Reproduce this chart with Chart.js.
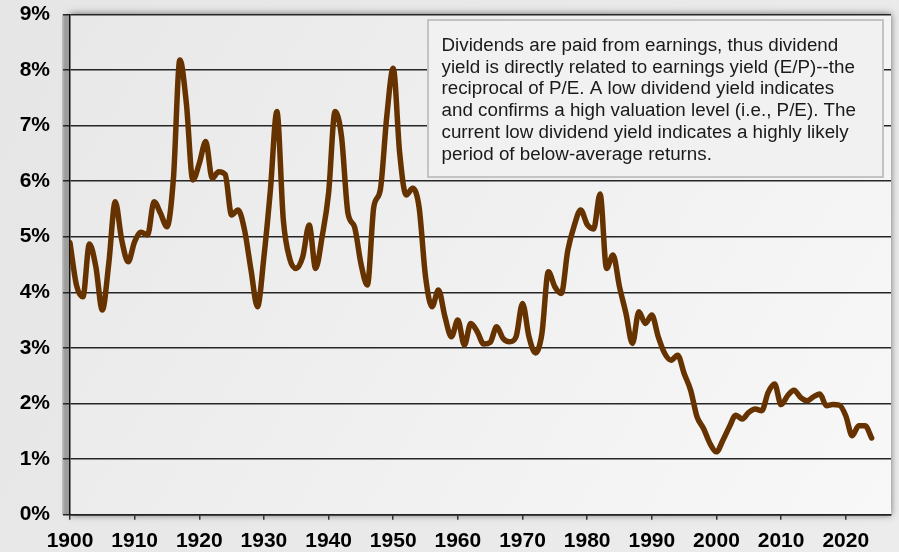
<!DOCTYPE html>
<html><head><meta charset="utf-8">
<script src="https://cdn.jsdelivr.net/npm/chart.js@4.4.1/dist/chart.umd.min.js"></script>
<style>html,body{margin:0;padding:0;background:#e8e8e8;}#wrap{width:899px;height:552px;position:relative;overflow:hidden}</style>
</head><body><div id="wrap"><canvas id="c" width="899" height="552"></canvas></div>
<script>
const years = [
 1900,1901,1902,1903,1904,1905,1906,1907,1908,1909,
 1910,1911,1912,1913,1914,1915,1916,1917,1918,1919,
 1920,1921,1922,1923,1924,1925,1926,1927,1928,1929,
 1930,1931,1932,1933,1934,1935,1936,1937,1938,1939,
 1940,1941,1942,1943,1944,1945,1946,1947,1948,1949,
 1950,1951,1952,1953,1954,1955,1956,1957,1958,1959,
 1960,1961,1962,1963,1964,1965,1966,1967,1968,1969,
 1970,1971,1972,1973,1974,1975,1976,1977,1978,1979,
 1980,1981,1982,1983,1984,1985,1986,1987,1988,1989,
 1990,1991,1992,1993,1994,1995,1996,1997,1998,1999,
 2000,2001,2002,2003,2004,2005,2006,2007,2008,2009,
 2010,2011,2012,2013,2014,2015,2016,2017,2018,2019,
 2020,2021,2022,2023,2024];
const dividendYield = [
 4.89,4.13,3.92,4.87,4.46,3.68,4.52,5.63,4.94,4.55,
 4.91,5.08,5.03,5.63,5.42,5.18,6.05,8.18,7.40,6.02,
 6.32,6.71,6.05,6.17,6.12,5.39,5.48,5.12,4.40,3.74,
 4.64,5.84,7.25,5.30,4.60,4.43,4.64,5.21,4.43,5.00,
 5.78,7.25,6.80,5.42,5.18,4.52,4.13,5.54,5.84,7.16,
 8.03,6.50,5.75,5.87,5.53,4.28,3.74,4.04,3.56,3.20,
 3.50,3.05,3.44,3.29,3.07,3.10,3.38,3.17,3.11,3.20,
 3.80,3.20,2.91,3.26,4.37,4.10,3.98,4.75,5.20,5.48,
 5.22,5.14,5.77,4.43,4.67,4.10,3.62,3.08,3.65,3.44,
 3.59,3.20,2.90,2.78,2.87,2.54,2.24,1.76,1.55,1.28,
 1.13,1.34,1.58,1.79,1.72,1.84,1.90,1.87,2.20,2.35,
 1.98,2.14,2.24,2.11,2.05,2.12,2.17,1.96,1.98,1.97,
 1.78,1.42,1.60,1.60,1.38];
const yTickValues = [0,1,2,3,4,5,6,7,8,9];
const yTickLabels = ['0%','1%','2%','3%','4%','5%','6%','7%','8%','9%'];
const xTickValues = [1900,1910,1920,1930,1940,1950,1960,1970,1980,1990,2000,2010,2020];
const xTickLabels = ['1900','1910','1920','1930','1940','1950','1960','1970','1980','1990','2000','2010','2020'];
const noteLines = [
 'Dividends are paid from earnings, thus dividend',
 'yield is directly related to earnings yield (E/P)--the',
 'reciprocal of P/E. A low dividend yield indicates',
 'and confirms a high valuation level (i.e., P/E). The',
 'current low dividend yield indicates a highly likely',
 'period of below-average returns.'
];

const FONT = '"Liberation Sans", Arial, sans-serif';

const bgPlugin = {
 id: 'bg',
 beforeDraw(chart) {
  const {ctx, chartArea: a} = chart;
  ctx.save();
  const g0 = ctx.createLinearGradient(0, 0, chart.width, chart.height);
  g0.addColorStop(0, '#e6e6e6'); g0.addColorStop(1, '#ececec');
  ctx.fillStyle = g0; ctx.fillRect(0, 0, chart.width, chart.height);
  ctx.save();
  ctx.shadowColor = 'rgba(0,0,0,0.55)'; ctx.shadowBlur = 7; ctx.shadowOffsetX = 0; ctx.shadowOffsetY = 0;
  ctx.fillStyle = '#bdbdbd';
  ctx.fillRect(a.left, a.top, a.width, a.height);
  ctx.restore();
  const gl = ctx.createLinearGradient(a.left - 8, 0, a.left, 0);
  gl.addColorStop(0, 'rgba(150,150,150,0.4)'); gl.addColorStop(0.35, '#9e9e9e'); gl.addColorStop(1, '#9a9a9a');
  ctx.fillStyle = gl; ctx.fillRect(a.left - 8, a.top, 8, a.height);
  const g = ctx.createLinearGradient(a.left, a.top, a.right, a.bottom);
  g.addColorStop(0, '#e8e8e8'); g.addColorStop(1, '#f8f8f8');
  ctx.fillStyle = g; ctx.fillRect(a.left, a.top, a.width, a.height);
  ctx.restore();
 }
};

const notePlugin = {
 id: 'note',
 afterDraw(chart) {
  const ctx = chart.ctx;
  ctx.save();
  ctx.fillStyle = '#f1f1f1';
  ctx.fillRect(428, 20, 455, 157);
  ctx.strokeStyle = '#c3c3c3'; ctx.lineWidth = 2;
  ctx.strokeRect(428, 20, 455, 157);
  ctx.fillStyle = '#1a1a1a';
  ctx.font = '18.8px ' + FONT;
  ctx.textBaseline = 'alphabetic';
  noteLines.forEach((t, i) => ctx.fillText(t, 441.5, 51 + i * 21.7));
  ctx.restore();
 }
};

new Chart(document.getElementById('c'), {
 type: 'line',
 data: {
  datasets: [{
   data: years.map((y, i) => ({x: y, y: dividendYield[i]})),
   borderColor: '#663300',
   borderWidth: 5.5,
   borderCapStyle: 'round',
   borderJoinStyle: 'round',
   pointRadius: 0,
   cubicInterpolationMode: 'monotone',
   fill: false
  }]
 },
 options: {
  responsive: false,
  animation: false,
  devicePixelRatio: 1,
  layout: {padding: {top: 14.3, right: 8, left: 0, bottom: 0}},
  plugins: {legend: {display: false}, tooltip: {enabled: false}},
  scales: {
   x: {
    type: 'linear', min: 1900, max: 2027,
    afterFit(s) { s.height = 37.3; s.paddingLeft = 0; s.paddingRight = 0; },
    afterBuildTicks(s) { s.ticks = xTickValues.map(v => ({value: v})); },
    ticks: {
     callback: (v) => { const i = xTickValues.indexOf(v); return i >= 0 ? xTickLabels[i] : ''; },
     color: '#000', font: {family: FONT, size: 21, weight: 'bold'}, padding: 9, maxRotation: 0, autoSkip: false
    },
    grid: {drawOnChartArea: false, drawTicks: true, tickLength: 5, color: '#333', lineWidth: 1.5},
    border: {display: true, color: '#222', width: 1.5}
   },
   y: {
    min: 0, max: 9,
    afterFit(s) { s.width = 70; s.paddingTop = 0; s.paddingBottom = 0; },
    afterBuildTicks(s) { s.ticks = yTickValues.map(v => ({value: v})); },
    ticks: {
     callback: (v) => { const i = yTickValues.indexOf(v); return i >= 0 ? yTickLabels[i] : ''; },
     color: '#000', font: {family: FONT, size: 21, weight: 'bold'}, padding: 13
    },
    grid: {drawTicks: true, tickLength: 7, color: '#262626', lineWidth: 1.5},
    border: {display: true, color: '#111', width: 1.5}
   }
  }
 },
 plugins: [bgPlugin, notePlugin]
});
</script></body></html>
